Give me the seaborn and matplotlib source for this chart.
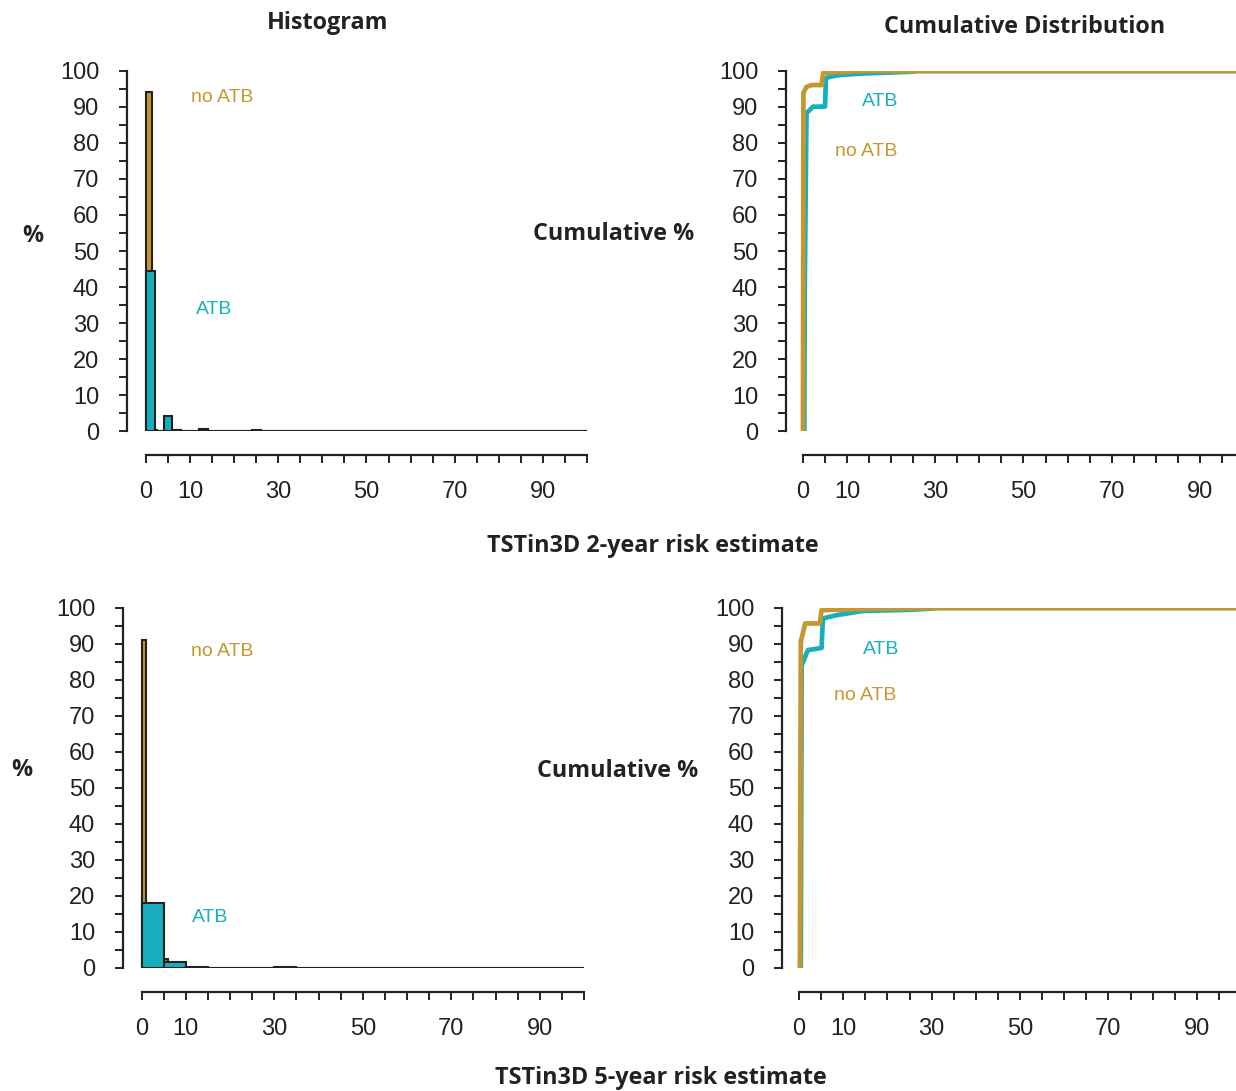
import numpy as np
import pandas as pd
import matplotlib
matplotlib.use("Agg")
import matplotlib.pyplot as plt
import seaborn as sns

# colours of the two groups
TEAL = "#17AFBE"
TAN = "#C7972F"

# histogram data, 2-year risk (% of patients per bin)
hist2_atb_edges = [0, 2, 4, 6, 8, 10, 12, 14, 16, 24, 26, 100]
hist2_atb_pct = [44.5, 0.0, 4.3, 0.4, 0.0, 0.0, 0.5, 0.0, 0.0, 0.2, 0.0]
hist2_noatb_edges = [0, 1.3, 2.6, 3.9, 5.2, 6.5, 7.8, 100]
hist2_noatb_pct = [94.2, 0.2, 0.0, 0.0, 0.3, 0.2, 0.0]

# histogram data, 5-year risk
hist5_atb_edges = [0, 5, 10, 15, 20, 25, 30, 35, 100]
hist5_atb_pct = [18.0, 1.6, 0.2, 0.1, 0.0, 0.1, 0.2, 0.0]
hist5_noatb_edges = [0, 1.0, 5, 6, 7, 100]
hist5_noatb_pct = [91.2, 0.0, 2.4, 0.2, 0.0]

# cumulative distribution, 2-year risk
cdf2_atb_x = [0.3, 0.4, 0.8, 2.3, 5.0, 5.2, 6.1, 8.4, 13.6, 24.7, 26.0, 100]
cdf2_atb_y = [0.0, 40.0, 88.3, 90.1, 90.1, 98.0, 98.4, 98.9, 99.3, 99.8, 100, 100]
cdf2_noatb_x = [0.0, 0.1, 0.8, 2.0, 4.2, 4.6, 13.3, 100]
cdf2_noatb_y = [0.0, 93.9, 95.6, 96.1, 96.1, 99.5, 100, 100]

# cumulative distribution, 5-year risk
cdf5_atb_x = [0.4, 0.6, 2.0, 5.1, 5.4, 8.5, 14.5, 25.0, 32.0, 100]
cdf5_atb_y = [0.0, 84.0, 88.3, 88.9, 97.1, 98.0, 99.2, 99.5, 100, 100]
cdf5_noatb_x = [0.2, 0.4, 1.4, 4.7, 5.1, 14.2, 30.0, 100]
cdf5_noatb_y = [0.0, 90.6, 95.7, 95.7, 99.4, 99.7, 100, 100]

xtick_labels = {0: "0", 10: "10", 30: "30", 50: "50", 70: "70", 90: "90"}

sns.set_style("ticks")
plt.rcParams["font.family"] = ["Liberation Sans", "DejaVu Sans"]
BOLD = ["Open Sans", "DejaVu Sans"]

W, H = 1236, 1091
fig = plt.figure(figsize=(W / 100, H / 100), dpi=100)


def px_axes(left, right, top, bottom):
    return fig.add_axes([left / W, 1 - bottom / H, (right - left) / W, (bottom - top) / H])


def style_axis(ax, xmin):
    ax.set_xlim(xmin, 100)
    ax.set_ylim(0, 100)
    sns.despine(ax=ax)
    ax.spines["bottom"].set_position(("outward", 17))
    ax.spines["bottom"].set_bounds(0, 100)
    ax.spines["left"].set_bounds(0, 100)
    for s in ("left", "bottom"):
        ax.spines[s].set_linewidth(1.6)
        ax.spines[s].set_color("#222222")
    xt = list(range(0, 101, 5))
    ax.set_xticks(xt)
    ax.set_xticklabels([xtick_labels.get(t, "") for t in xt])
    ax.set_yticks(range(0, 101, 10))
    ax.set_yticks(range(5, 100, 10), minor=True)
    ax.tick_params(axis="both", which="both", direction="out", length=6,
                   width=1.4, color="#222222", labelsize=17, labelcolor="#222222")
    ax.tick_params(axis="x", pad=13)
    ax.tick_params(axis="y", pad=14)
    ax.set_xlabel("")
    ax.set_ylabel("")
    ax.grid(False)


def draw_hist(ax, edges, pct, color):
    e = np.array(edges, dtype=float)
    df = pd.DataFrame({"risk": (e[:-1] + e[1:]) / 2, "pct": pct})
    sns.histplot(data=df, x="risk", weights="pct", bins=list(edges), color=color,
                 alpha=1, edgecolor="#222222", linewidth=1.5, ax=ax)


def draw_cdf(ax, x, y, color):
    sns.lineplot(x=x, y=y, estimator=None, sort=False, color=color,
                 linewidth=3.4, ax=ax)


def ftext(x, y, s, **kw):
    fig.text(x / W, 1 - y / H, s, ha="center", va="center", **kw)


# top row: 2-year
ax1 = px_axes(127, 587, 71, 431)
draw_hist(ax1, hist2_noatb_edges, hist2_noatb_pct, TAN)
draw_hist(ax1, hist2_atb_edges, hist2_atb_pct, TEAL)
style_axis(ax1, -4.3)

ax2 = px_axes(786, 1244, 71, 431)
draw_cdf(ax2, cdf2_atb_x, cdf2_atb_y, TEAL)
draw_cdf(ax2, cdf2_noatb_x, cdf2_noatb_y, TAN)
style_axis(ax2, -3.85)

# bottom row: 5-year
ax3 = px_axes(123, 584, 608, 968)
draw_hist(ax3, hist5_noatb_edges, hist5_noatb_pct, TAN)
draw_hist(ax3, hist5_atb_edges, hist5_atb_pct, TEAL)
style_axis(ax3, -4.2)

ax4 = px_axes(782, 1241, 608, 968)
draw_cdf(ax4, cdf5_atb_x, cdf5_atb_y, TEAL)
draw_cdf(ax4, cdf5_noatb_x, cdf5_noatb_y, TAN)
style_axis(ax4, -3.85)

# group labels
lab = dict(fontsize=14)
ftext(222, 97, "no ATB", color=TAN, **lab)
ftext(214, 309, "ATB", color=TEAL, **lab)
ftext(880, 102, "ATB", color=TEAL, **lab)
ftext(866, 151, "no ATB", color=TAN, **lab)
ftext(222, 651, "no ATB", color=TAN, **lab)
ftext(210, 917, "ATB", color=TEAL, **lab)
ftext(881, 649, "ATB", color=TEAL, **lab)
ftext(865, 695, "no ATB", color=TAN, **lab)

# titles and axis captions
bold = dict(fontsize=16.8, fontweight="bold", family=BOLD, color="#222222")
ftext(328, 23, "Histogram", **bold)
ftext(1025, 27, "Cumulative Distribution", **bold)
ftext(33, 236, "%", **bold)
ftext(614, 234, "Cumulative %", **bold)
ftext(653, 546, "TSTin3D 2-year risk estimate", **bold)
ftext(22, 770, "%", **bold)
ftext(618, 771, "Cumulative %", **bold)
ftext(661, 1078, "TSTin3D 5-year risk estimate", **bold)

fig.savefig("out.png", dpi=100)
